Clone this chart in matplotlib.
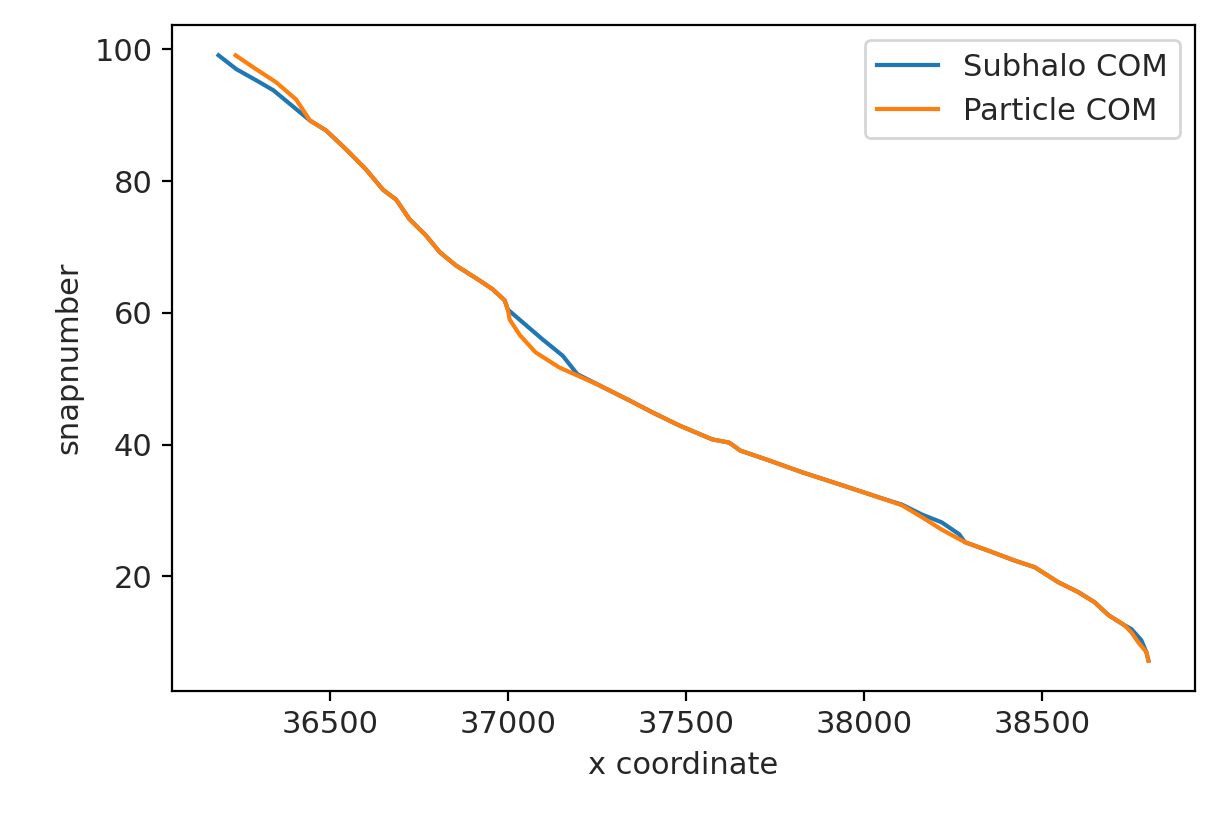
import matplotlib
matplotlib.use('Agg')
from matplotlib import pyplot as plt

# Subhalo COM track
subhalo_x = [36186, 36236, 36292, 36340, 36387, 36443, 36488, 36545, 36600, 36648,
             36685, 36723, 36768, 36808, 36853, 36920, 36956, 36990, 36999, 37040,
             37096, 37153, 37194, 37256, 37341, 37405, 37481, 37573, 37621, 37652,
             37733, 37826, 37929, 38058, 38106, 38162, 38218, 38267, 38283, 38349,
             38423, 38479, 38546, 38602, 38647, 38687, 38731, 38751, 38779, 38793,
             38799]
subhalo_snap = [99.1, 97.0, 95.3, 93.8, 91.7, 89.2, 87.7, 84.8, 81.8, 78.7,
                77.2, 74.2, 71.8, 69.2, 67.2, 64.9, 63.6, 61.9, 60.5, 58.6,
                56.0, 53.5, 50.7, 49.0, 46.7, 44.9, 42.9, 40.8, 40.3, 39.1,
                37.6, 35.8, 34.0, 31.7, 30.9, 29.4, 28.2, 26.4, 25.2, 23.9,
                22.4, 21.4, 19.1, 17.6, 16.1, 14.1, 12.6, 12.0, 10.3, 8.5,
                7.2]

# Particle COM track
particle_x = [36234, 36283, 36348, 36404, 36443, 36488, 36545, 36600, 36648,
              36685, 36723, 36768, 36808, 36853, 36920, 36956, 36990, 36999, 37004,
              37033, 37077, 37144, 37194, 37256, 37341, 37405, 37481, 37573, 37621,
              37652, 37733, 37826, 37929, 38058, 38106, 38162, 38218, 38283, 38349,
              38423, 38479, 38546, 38602, 38647, 38687, 38731, 38751, 38770, 38793,
              38799]
particle_snap = [99.1, 97.3, 95.0, 92.4, 89.2, 87.7, 84.8, 81.8, 78.7,
                 77.2, 74.2, 71.8, 69.2, 67.2, 64.9, 63.6, 61.9, 60.5, 59.0,
                 56.6, 54.0, 51.7, 50.5, 49.0, 46.7, 44.9, 42.9, 40.8, 40.3,
                 39.1, 37.6, 35.8, 34.0, 31.7, 30.8, 29.0, 27.1, 25.2, 23.9,
                 22.4, 21.4, 19.1, 17.6, 16.1, 14.1, 12.6, 11.5, 10.0, 8.5,
                 7.2]

plt.rcParams['font.size'] = 11
plt.rcParams['text.color'] = '#262626'
plt.rcParams['axes.labelcolor'] = '#262626'
plt.rcParams['xtick.labelcolor'] = '#262626'
plt.rcParams['ytick.labelcolor'] = '#262626'

fig = plt.figure(figsize=(6.13, 4.09), dpi=200)
ax = fig.add_subplot(111)
fig.subplots_adjust(left=0.1403, right=0.9747, top=0.9694, bottom=0.1553)

ax.plot(subhalo_x, subhalo_snap, label='Subhalo COM')
ax.plot(particle_x, particle_snap, label='Particle COM')

ax.set_xticks([36500, 37000, 37500, 38000, 38500])
ax.set_yticks([20, 40, 60, 80, 100])
ax.set_xlabel('x coordinate')
ax.set_ylabel('snapnumber')
ax.legend(loc='upper right')

fig.savefig('out.png', dpi=200)
